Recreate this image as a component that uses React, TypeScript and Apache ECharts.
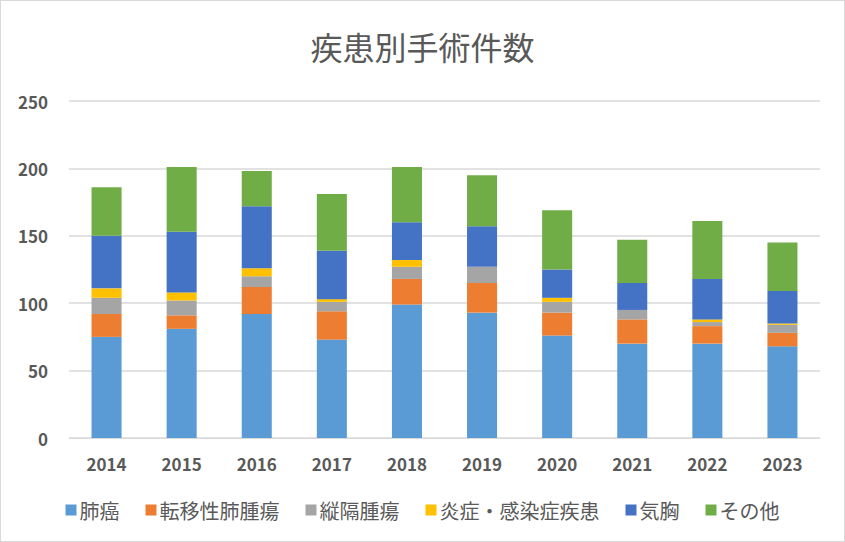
import React, { useEffect, useRef } from "react";
import * as echarts from "echarts";

const years = ["2014", "2015", "2016", "2017", "2018", "2019", "2020", "2021", "2022", "2023"];
const lungCancer = [75, 81, 92, 73, 99, 93, 76, 70, 70, 68];
const metastatic = [17, 10, 20, 21, 19, 22, 17, 18, 13, 10];
const mediastinal = [12, 11, 8, 7, 9, 12, 8, 7, 3, 6];
const inflammatory = [7, 6, 6, 2, 5, 0, 3, 0, 2, 1];
const pneumothorax = [39, 45, 46, 36, 28, 30, 21, 20, 30, 24];
const others = [36, 48, 26, 42, 41, 38, 44, 32, 43, 36];

const seriesNames = ["肺癌", "転移性肺腫瘍", "縦隔腫瘍", "炎症・感染症疾患", "気胸", "その他"];
const seriesColors = ["#5B9BD5", "#ED7D31", "#A5A5A5", "#FFC000", "#4472C4", "#70AD47"];
const seriesData = [lungCancer, metastatic, mediastinal, inflammatory, pneumothorax, others];

const FONT = "'Noto Sans CJK JP', 'Noto Sans', sans-serif";

export default function App() {
  const ref = useRef<HTMLDivElement>(null);
  useEffect(() => {
    if (!ref.current) return;
    const chart = echarts.init(ref.current, null, { renderer: "svg" });
    chart.setOption({
      animation: false,
      backgroundColor: "#ffffff",
      title: {
        text: "疾患別手術件数",
        left: "center",
        top: 24,
        textStyle: { fontFamily: FONT, fontSize: 32, fontWeight: "normal", color: "#595959" },
      },
      legend: {
        data: seriesNames,
        bottom: 16,
        left: "center",
        itemWidth: 11,
        itemHeight: 11,
        itemGap: 26,
        icon: "rect",
        textStyle: { fontFamily: FONT, fontSize: 20, color: "#595959", padding: [0, 0, 0, -2] },
      },
      grid: { left: 68, right: 24, top: 100, bottom: 103, containLabel: false },
      xAxis: {
        type: "category",
        data: years,
        axisLine: { lineStyle: { color: "#D9D9D9", width: 1 } },
        axisTick: { show: false },
        axisLabel: { fontFamily: FONT, fontSize: 17, fontWeight: "bold", color: "#595959", margin: 17 },
      },
      yAxis: {
        type: "value",
        min: 0,
        max: 250,
        interval: 50,
        axisLine: { show: false },
        axisTick: { show: false },
        splitLine: { lineStyle: { color: "#D9D9D9", width: 1.5 } },
        axisLabel: { fontFamily: FONT, fontSize: 17, fontWeight: "bold", color: "#595959", margin: 21 },
      },
      series: seriesNames.map((name, i) => ({
        name,
        type: "bar",
        stack: "total",
        data: seriesData[i],
        barWidth: "40%",
        itemStyle: { color: seriesColors[i] },
      })),
    });
    return () => chart.dispose();
  }, []);
  return (
    <div
      ref={ref}
      style={{
        position: "fixed",
        left: 0,
        top: 0,
        width: 845,
        height: 542,
        boxSizing: "border-box",
        border: "1px solid #D9D9D9",
        background: "#fff",
      }}
    />
  );
}
